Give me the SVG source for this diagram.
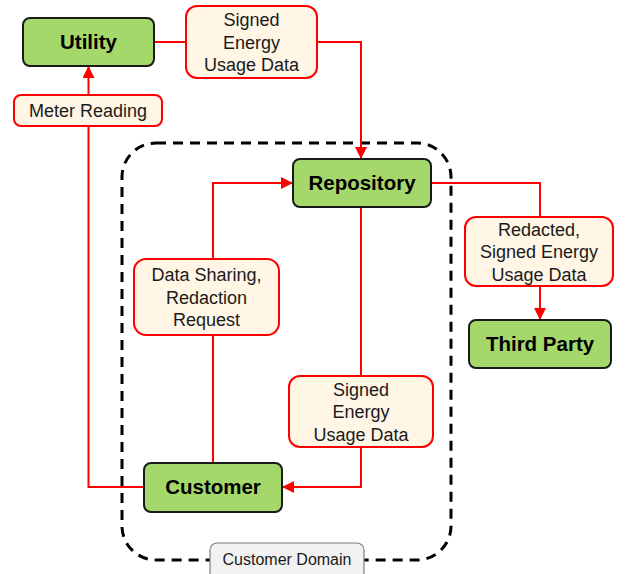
<svg xmlns="http://www.w3.org/2000/svg" width="632" height="574" viewBox="0 0 632 574">
  <style>
    .node rect { fill: #a5d86a; stroke: #1a1a1a; stroke-width: 2; }
    .node text { font-family: "Liberation Sans", Arial, sans-serif; font-weight: bold; font-size: 20.5px; fill: #000; text-anchor: middle; }
    .lbl rect { fill: #fff6e6; stroke: #ff0000; stroke-width: 2; }
    .lbl text { font-family: "Liberation Sans", Arial, sans-serif; font-size: 18px; fill: #1a1a1a; text-anchor: middle; }
    .edge { fill: none; stroke: #ff0000; stroke-width: 2; }
    .arrow { marker-end: url(#ah); }
  </style>
  <defs>
    <marker id="ah" markerWidth="12" markerHeight="12" viewBox="0 0 12 12" refX="12" refY="6" orient="auto" markerUnits="userSpaceOnUse">
      <path d="M0,0 L12,6 L0,12 Z" fill="#ff0000"/>
    </marker>
  </defs>
  <rect width="632" height="574" fill="#ffffff"/>

  <!-- customer domain boundary -->
  <g id="domain">
    <rect x="122" y="143" width="329" height="417" rx="34" fill="none" stroke="#000" stroke-width="3" stroke-dasharray="10 7"/>
    <rect x="210" y="543" width="154" height="42" rx="7" fill="#f2f2f2" stroke="#7f7f7f" stroke-width="1.2"/>
    <text x="287" y="565" font-family="Liberation Sans, Arial, sans-serif" font-size="16" fill="#1a1a1a" text-anchor="middle">Customer Domain</text>
  </g>

  <!-- connectors -->
  <g id="connectors">
    <polyline class="edge arrow" points="154,42 361,42 361,159"/>
    <polyline class="edge arrow" points="431,183 540,183 540,320"/>
    <polyline class="edge arrow" points="361,207 361,487 282,487"/>
    <polyline class="edge arrow" points="213,463 213,183 293,183"/>
    <polyline class="edge arrow" points="144,487 88.5,487 88.5,66"/>
  </g>

  <!-- connector labels -->
  <g id="lbl-signed-top" class="lbl">
    <rect x="186" y="6" width="131" height="72" rx="11"/>
    <text x="251.5" y="26">Signed</text>
    <text x="251.5" y="48.5">Energy</text>
    <text x="251.5" y="71">Usage Data</text>
  </g>
  <g id="lbl-meter" class="lbl">
    <rect x="14" y="95" width="148" height="31" rx="7"/>
    <text x="88" y="117">Meter Reading</text>
  </g>
  <g id="lbl-redacted" class="lbl">
    <rect x="465" y="217" width="148" height="69" rx="11"/>
    <text x="539" y="235.5">Redacted,</text>
    <text x="539" y="258">Signed Energy</text>
    <text x="539" y="280.5">Usage Data</text>
  </g>
  <g id="lbl-sharing" class="lbl">
    <rect x="134" y="259" width="145" height="76" rx="12"/>
    <text x="206.5" y="281">Data Sharing,</text>
    <text x="206.5" y="303.5">Redaction</text>
    <text x="206.5" y="326">Request</text>
  </g>
  <g id="lbl-signed-bottom" class="lbl">
    <rect x="289" y="376" width="144" height="71" rx="11"/>
    <text x="361" y="395.5">Signed</text>
    <text x="361" y="418">Energy</text>
    <text x="361" y="440.5">Usage Data</text>
  </g>

  <!-- nodes -->
  <g id="utility" class="node">
    <rect x="23" y="18" width="131" height="48" rx="7"/>
    <text x="88.5" y="49">Utility</text>
  </g>
  <g id="repository" class="node">
    <rect x="293" y="159" width="138" height="48" rx="7"/>
    <text x="362" y="190">Repository</text>
  </g>
  <g id="third-party" class="node">
    <rect x="469" y="320" width="142" height="48" rx="7"/>
    <text x="540" y="351">Third Party</text>
  </g>
  <g id="customer" class="node">
    <rect x="144" y="463" width="138" height="49" rx="7"/>
    <text x="213" y="494">Customer</text>
  </g>
</svg>
